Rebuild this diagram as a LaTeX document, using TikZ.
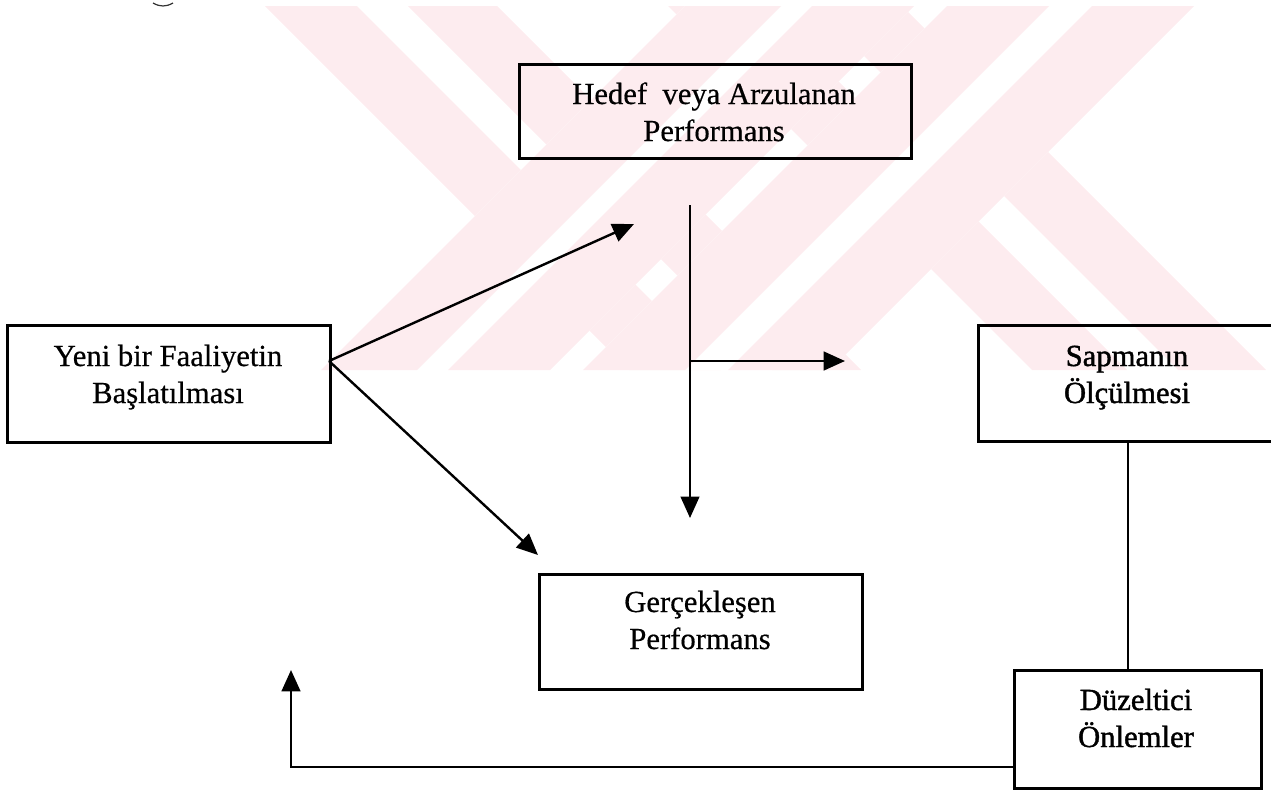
\documentclass[tikz,border=0pt]{standalone}
\usepackage{fontspec}
\setmainfont{Liberation Serif}
\newfontfamily\inkfont{Liberation Serif}[BoldFont={Liberation Serif}, BoldFeatures={FakeBold=0.5}]
\newfontfamily\heavyfont{Liberation Serif}[BoldFont={Liberation Serif}, BoldFeatures={FakeBold=1.3}]
\usetikzlibrary{arrows.meta}
\definecolor{wmpink}{RGB}{253,236,239}
\begin{document}
\begin{tikzpicture}[x=0.75pt,y=-0.75pt,
  box/.style={draw, line width=2.1pt, rectangle, inner sep=0pt, anchor=north west},
  lbl/.style={font=\fontsize{23}{27.75}\inkfont\bfseries, align=center, anchor=base, inner sep=0pt},
  heavy lbl/.style={lbl, font=\fontsize{23}{27.75}\heavyfont\bfseries},
  conn/.style={line width=1.8pt},
  thin conn/.style={line width=1.5pt},
  arr/.style={conn, -{Triangle[length=16pt,width=14pt]}}]
\useasboundingbox (0,0) rectangle (1271,790);
\clip (0,0) rectangle (1271,790);

% background emblem: two crossed double bands
\begin{scope}
  \clip (0,6) rectangle (1271,370);
  % bands running down to the right (x - y constant), lower layer
  \foreach \a/\b in {259/351, 402/491, 662/757, 808/896}
    \fill[wmpink] (\a+6,6) -- (\b+6,6) -- (\b+370,370) -- (\a+370,370) -- cycle;
  % bands running down to the left (x + y constant), upper layer with white gap
  \foreach \c/\d/\e/\f in {691/787/818/920, 953/1055/1098/1200}{
    \fill[white] (\c-6,6) -- (\f-6,6) -- (\f-370,370) -- (\c-370,370) -- cycle;
    \fill[wmpink] (\c-6,6) -- (\d-6,6) -- (\d-370,370) -- (\c-370,370) -- cycle;
    \fill[wmpink] (\e-6,6) -- (\f-6,6) -- (\f-370,370) -- (\e-370,370) -- cycle;
  }
\end{scope}

% small mark at the top edge
\draw[line width=0.9pt, black!80] (153,3) .. controls (160,7) and (166,7) .. (173,3);

% boxes
\node[box, minimum width=392*0.75pt, minimum height=94*0.75pt] (hedef) at (518,63) {};
\node[box, minimum width=323*0.75pt, minimum height=117*0.75pt] (yeni) at (6,324) {};
\node[box, minimum width=300*0.75pt, minimum height=116*0.75pt] (sapma) at (977,324) {};
\node[box, minimum width=323*0.75pt, minimum height=115*0.75pt] (gercek) at (538,573) {};
\node[box, minimum width=247*0.75pt, minimum height=118*0.75pt] (duzelt) at (1013,669) {};

% labels (placed at the baseline of the second line)
\node[lbl] (hedefT) at (714,141) {Hedef\ \ veya Arzulanan\\Performans};
\node[lbl] (yeniT) at (168,403) {Yeni bir Faaliyetin\\Başlatılması};
\node[heavy lbl] (sapmaT) at (1127,403) {Sapmanın\\Ölçülmesi};
\node[lbl] (gercekT) at (700,649) {Gerçekleşen\\Performans};
\node[heavy lbl] (duzeltT) at (1136,747) {Düzeltici\\Önlemler};

% connector end points
\coordinate (yOut) at (329,361);
\coordinate (tipUp) at (634,224);
\coordinate (tipDown) at (538,555);
\coordinate (vTop) at (690,205);
\coordinate (vBot) at (690,518);
\coordinate (vMid) at (690,361);
\coordinate (hTip) at (845,361);
\coordinate (back) at (291,767);
\coordinate (backTip) at (291,670);

% connectors
\draw[arr] (yOut) -- (tipUp);
\draw[arr] (yOut) -- (tipDown);
\draw[arr, thin conn] (vTop) -- (vBot);
\draw[arr] (vMid) -- (hTip);
\draw[thin conn] (sapma.south -| duzelt.north) ++(-10,0) coordinate (sDrop) -- (sDrop |- duzelt.north);
\draw[arr] (duzelt.west |- back) -- (back) -- (backTip);
\end{tikzpicture}
\end{document}
